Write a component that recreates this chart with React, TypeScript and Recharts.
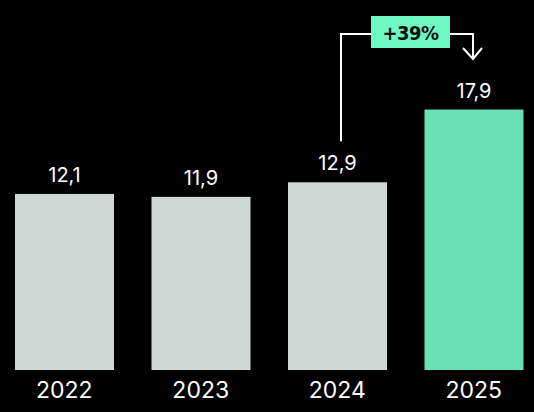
import { Bar, BarChart, LabelList, XAxis, YAxis } from "recharts";

const years = ["2022", "2023", "2024", "2025"];
const totals = [12.1, 11.9, 12.9, 17.9];
const growthLabel = "+39%";

const data = years.map((year, i) => ({ year, total: totals[i] }));

const GREY = "#D0D8D6";
const GREEN = "#68E1B5";
const BADGE = "#70F8C3";
const FONT = "Inter, 'Noto Sans', sans-serif";
const LINE_Y = 34;

function BarShape(props: any) {
  const { x, y, width, height, index } = props;
  const cx = x + width / 2;
  const isLast = index === data.length - 1;
  return (
    <g>
      <rect x={x} y={y} width={width} height={height} fill={isLast ? GREEN : GREY} />
      {index === data.length - 2 && (
        <g>
          <polyline
            points={`${cx + 3.5},${y - 41} ${cx + 3.5},${LINE_Y} ${cx + 34},${LINE_Y}`}
            fill="none"
            stroke="#fff"
            strokeWidth={2}
          />
          <rect x={cx + 33.5} y={16} width={79} height={32} fill={BADGE} />
          <text
            x={cx + 73}
            y={40}
            textAnchor="middle"
            fill="#111"
            fontSize={20}
            fontWeight={700}
            letterSpacing={-0.5}
            fontFamily="'DejaVu Sans Condensed', 'DejaVu Sans', sans-serif"
          >
            {growthLabel}
          </text>
        </g>
      )}
      {isLast && (
        <g fill="none" stroke="#fff" strokeWidth={2}>
          <polyline points={`${cx - 24},${LINE_Y} ${cx - 1},${LINE_Y} ${cx - 1},${59}`} />
          <polyline points={`${cx - 11},${48} ${cx - 1},${59} ${cx + 8},${48}`} />
        </g>
      )}
    </g>
  );
}

export default function App() {
  return (
    <div
      style={{
        position: "absolute",
        left: 0,
        top: 0,
        width: 534,
        height: 412,
        background: "#000",
        overflow: "hidden"
      }}
    >
      <div style={{ position: "absolute", left: -4.5, top: 0 }}>
        <BarChart width={546} height={412} data={data} margin={{ top: 79, right: 0, left: 0, bottom: 0 }}>
          <XAxis
            dataKey="year"
            axisLine={false}
            tickLine={false}
            tickSize={0}
            tickMargin={12}
            height={42}
            interval={0}
            tick={{ fill: "#fff", fontSize: 23, fontWeight: 400, fontFamily: FONT }}
          />
          <YAxis hide domain={[0, 20]} />
          <Bar dataKey="total" barSize={99} shape={BarShape} isAnimationActive={false}>
            <LabelList
              dataKey="total"
              position="top"
              offset={12}
              fill="#fff"
              fontSize={20}
              fontFamily={FONT}
              formatter={(v: any) => String(v).replace(".", ",")}
            />
          </Bar>
        </BarChart>
      </div>
    </div>
  );
}
